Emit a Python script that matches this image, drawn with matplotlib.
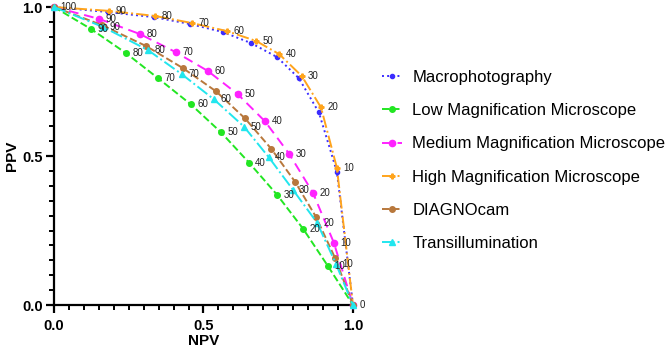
import matplotlib
matplotlib.use("Agg")
import matplotlib.pyplot as plt
from matplotlib.ticker import MultipleLocator
import numpy as np

plt.rcParams['font.family'] = ['Liberation Sans', 'DejaVu Sans']

thresholds = [100, 90, 80, 70, 60, 50, 40, 30, 20, 10, 0]

macro_npv = [0.0, 0.181, 0.334, 0.455, 0.565, 0.659, 0.746, 0.819, 0.886, 0.946, 1.0]
macro_ppv = [1.0, 0.983, 0.966, 0.943, 0.916, 0.879, 0.832, 0.761, 0.646, 0.448, 0.0]

low_npv = [0.0, 0.124, 0.241, 0.348, 0.458, 0.559, 0.652, 0.746, 0.833, 0.916, 1.0]
low_ppv = [1.0, 0.926, 0.845, 0.761, 0.673, 0.579, 0.478, 0.370, 0.256, 0.131, 0.0]

med_npv = [0.0, 0.151, 0.288, 0.408, 0.515, 0.615, 0.706, 0.786, 0.866, 0.936, 1.0]
med_ppv = [1.0, 0.960, 0.909, 0.848, 0.785, 0.707, 0.616, 0.508, 0.377, 0.209, 0.0]

high_npv = [0.0, 0.184, 0.338, 0.462, 0.579, 0.676, 0.753, 0.829, 0.893, 0.946, 1.0]
high_ppv = [1.0, 0.987, 0.970, 0.946, 0.919, 0.886, 0.842, 0.768, 0.663, 0.461, 0.0]

diag_npv = [0.0, 0.161, 0.308, 0.431, 0.542, 0.639, 0.726, 0.806, 0.876, 0.940, 1.0]
diag_ppv = [1.0, 0.939, 0.869, 0.795, 0.717, 0.626, 0.525, 0.414, 0.296, 0.158, 0.0]

trans_npv = [0.0, 0.164, 0.315, 0.428, 0.535, 0.635, 0.719, 0.799, 0.880, 0.943, 1.0]
trans_ppv = [1.0, 0.933, 0.855, 0.774, 0.690, 0.599, 0.495, 0.387, 0.276, 0.138, 0.0]

axis_ticks = [0.0, 0.5, 1.0]
axis_ticklabels = ["0.0", "0.5", "1.0"]

fig = plt.figure(figsize=(6.66, 3.52), dpi=100)
ax = fig.add_axes([0.0811, 0.1335, 0.4489, 0.8466])

# name, x, y, colour, linestyle, marker, size, which points get labels
series = [
    ("Macrophotography", macro_npv, macro_ppv, "#3b2cff", ":", "o", 3.0, None),
    ("Low Magnification Microscope", low_npv, low_ppv, "#22e622", "--", "o", 4.0, "mid"),
    ("Medium Magnification Microscope", med_npv, med_ppv, "#ff22ff", (0, (5, 3)), "o", 4.5, "mid"),
    ("High Magnification Microscope", high_npv, high_ppv, "#ffa41c", "-.", "P", 3.5, "all"),
    ("DIAGNOcam", diag_npv, diag_ppv, "#b8783c", "--", "o", 4.0, None),
    ("Transillumination", trans_npv, trans_ppv, "#22e6ee", "-.", "^", 4.0, "mid"),
]

for name, xs, ys, col, ls, mk, ms, lab in series:
    ax.plot(xs, ys, linestyle=ls, color=col, marker=mk, markersize=ms,
            linewidth=1.4, label=name, clip_on=False, zorder=3)
    if lab is None:
        continue
    for t, x, y in zip(thresholds, xs, ys):
        if lab == "mid" and t in (100, 0):
            continue
        ax.annotate(str(t), (x, y), xytext=(4.5, 0), textcoords="offset points",
                    ha="left", va="center", fontsize=7, color="#222222", zorder=4)

ax.set_xlim(0, 1)
ax.set_ylim(0, 1)
ax.spines["top"].set_visible(False)
ax.spines["right"].set_visible(False)
ax.spines["left"].set_linewidth(1.6)
ax.spines["bottom"].set_linewidth(1.6)

ax.set_xticks(axis_ticks)
ax.set_yticks(axis_ticks)
ax.set_xticklabels(axis_ticklabels, fontweight="bold")
ax.set_yticklabels(axis_ticklabels, fontweight="bold")
ax.xaxis.set_minor_locator(MultipleLocator(0.05))
ax.yaxis.set_minor_locator(MultipleLocator(0.05))
ax.tick_params(which="major", length=6, width=1.6, labelsize=10.5, pad=2)
ax.tick_params(which="minor", length=3.5, width=1.4)
ax.tick_params(axis="x", which="major", pad=4)

ax.set_xlabel("NPV", fontsize=11, fontweight="bold", labelpad=1)
ax.set_ylabel("PPV", fontsize=11, fontweight="bold", labelpad=2)

fig.legend(loc="upper left", bbox_to_anchor=(0.573, 0.801), frameon=False,
           fontsize=12, handlelength=1.2, handletextpad=0.65, labelspacing=1.09,
           borderpad=0, borderaxespad=0)

fig.savefig("out.png", dpi=100)
